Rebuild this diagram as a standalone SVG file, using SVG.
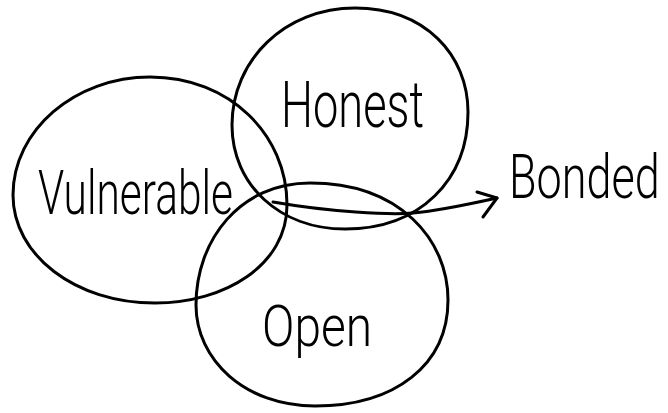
<svg xmlns="http://www.w3.org/2000/svg" width="668" height="413" viewBox="0 0 668 413">
<style>
.c{fill:none;stroke:#000;stroke-width:3;stroke-linecap:round;stroke-linejoin:round}
.t{font-family:Roboto,"Liberation Sans",sans-serif;font-weight:300;fill:#000}
</style>
<rect width="668" height="413" fill="#fff"/>
<g id="vulnerable">
<path class="c" d="M150,77 C230,77 287,135 287,205 C287,265 225,303 155,303 C75,303 13,255 13,195 C13,130 75,77 150,77 Z"/>
<text class="t" x="38" y="214" font-size="62" textLength="195" lengthAdjust="spacingAndGlyphs">Vulnerable</text>
</g>
<g id="honest">
<path class="c" d="M355,8 C425,8 468,55 468,112 C468,180 420,229 345,229 C280,229 232,185 232,125 C232,60 285,8 355,8 Z"/>
<text class="t" x="281" y="127" font-size="64" textLength="143" lengthAdjust="spacingAndGlyphs">Honest</text>
</g>
<g id="open">
<path class="c" d="M310,183 C400,183 448,240 448,300 C448,365 395,406 315,406 C245,406 196,360 196,305 C196,240 240,183 310,183 Z"/>
<text class="t" x="262" y="346" font-size="58" textLength="110" lengthAdjust="spacingAndGlyphs">Open</text>
</g>
<g id="bonded">
<text class="t" transform="translate(509,198) scale(1,1.35)" x="0" y="0" font-size="45">Bonded</text>
</g>
<g id="connectors">
<path class="c" d="M273,202 C330,212 390,215 413,213 S470,204 497,198"/>
<path class="c" d="M477,192 L497,198 L483,217"/>
</g>
</svg>
